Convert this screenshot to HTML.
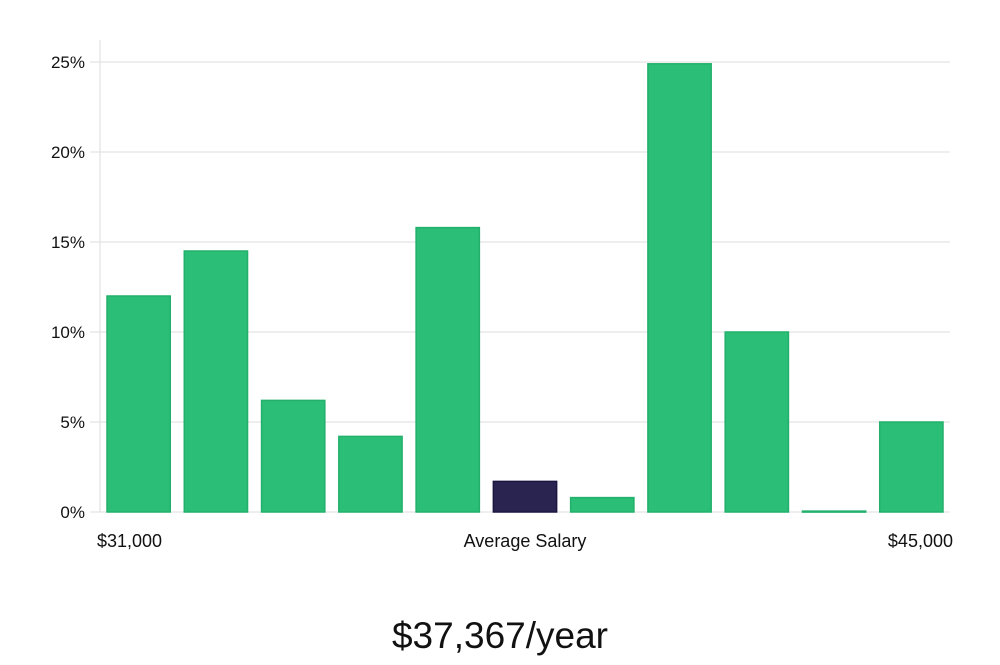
<!DOCTYPE html>
<html><head><meta charset="utf-8"><style>
body{margin:0;background:#fff;width:1000px;height:660px;overflow:hidden;font-family:"Liberation Sans","DejaVu Sans",sans-serif}
</style></head><body>
<svg id="chart" width="1000" height="660" xmlns="http://www.w3.org/2000/svg"></svg>
<script>
const categories=["b1","b2","b3","b4","b5","b6","b7","b8","b9","b10","b11"];
const values=[12,14.5,6.2,4.2,15.8,1.7,0.8,24.9,10,0.05,5];
const highlight=[false,false,false,false,false,true,false,false,false,false,false];
const yTicks=[0,5,10,15,20,25];
const yTickLabels=["0%","5%","10%","15%","20%","25%"];
const NS="http://www.w3.org/2000/svg";
const svg=document.getElementById('chart');
const x0=100,x1=950,yBase=512,yTop=62;
const y=v=>yBase-(v/25)*(yBase-yTop);
const slot=(x1-x0)/categories.length;
function mk(t,a,txt){const e=document.createElementNS(NS,t);for(const k in a)e.setAttribute(k,a[k]);if(txt!==undefined)e.textContent=txt;svg.appendChild(e);return e;}
yTicks.forEach((t,i)=>{
 const g=mk('line',{x1:x0-10,x2:x1,y1:y(t),y2:y(t),stroke:'#dddddd','stroke-width':1});
 
 
 const l=mk('text',{x:85,y:y(t)+6,'text-anchor':'end','font-size':17,fill:'#111'},yTickLabels[i]);
 
 
});
const ax=mk('line',{x1:x0,x2:x0,y1:40,y2:yBase,stroke:'#dddddd','stroke-width':1});


values.forEach((v,i)=>{
 const bx=x0+i*slot+7,bw=slot-14;
 const r=mk('rect',{x:bx,y:y(v),width:bw,height:Math.max(yBase-y(v),1),fill:highlight[i]?'#2a2550':'#2bbe77',stroke:highlight[i]?'#1a1640':'#22b06c','stroke-width':1.5});
 
 
});
const labs=[[97,'start','$31,000','x-min-label'],[525,'middle','Average Salary','x-average-label'],[953,'end','$45,000','x-max-label']];
labs.forEach(l=>{
 const t=mk('text',{x:l[0],y:547,'text-anchor':l[1],'font-size':18,fill:'#111'},l[2]);
 
 
});
const tt=mk('text',{x:500,y:648,'text-anchor':'middle','font-size':37,fill:'#111','font-weight':300},'$37,367/year');


</script>
</body></html>
